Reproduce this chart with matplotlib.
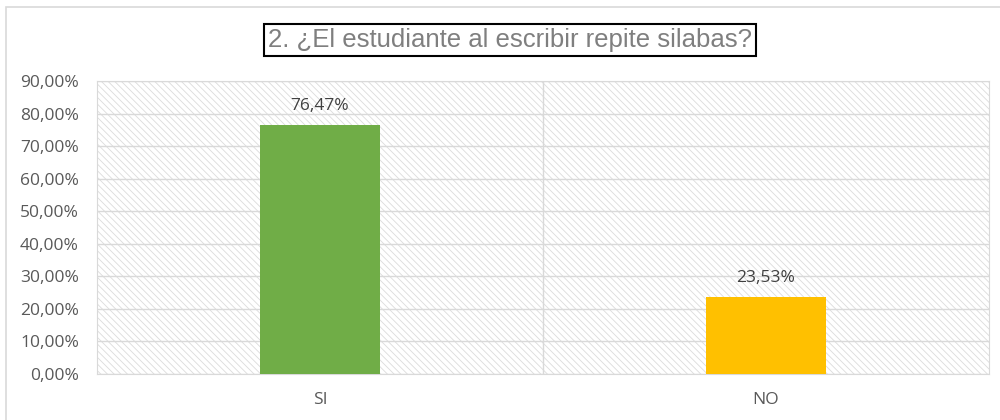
import matplotlib.pyplot as plt
from matplotlib.patches import Rectangle
from matplotlib.ticker import FuncFormatter

categories = ["SI", "NO"]
values = [76.47, 23.53]
colors = ["#70AD47", "#FFC000"]
title = "2. ¿El estudiante al escribir repite silabas?"

plt.rcParams['hatch.linewidth'] = 0.6

fig = plt.figure(figsize=(10, 4.2), dpi=100)
ax = fig.add_axes([0.097, 0.1095, 0.892, 0.6976])

# outer chart border (clipped on right/bottom like the original)
fig.patches.append(Rectangle((0.006, -0.02), 1.1, 1.003, transform=fig.transFigure,
                             fill=False, edgecolor="#d9d9d9", linewidth=1.2))

# hatched plot area background
ax.add_patch(Rectangle((0, 0), 1, 1, transform=ax.transAxes, facecolor="white",
                       edgecolor="#dcdcdc", hatch="\\\\\\\\\\", linewidth=0, zorder=0))

x = list(range(len(categories)))
ax.bar(x, values, width=0.271, color=colors, zorder=3)

for xi, v in zip(x, values):
    ax.annotate(("%.2f%%" % v).replace(".", ","), (xi, v), xytext=(0, 8),
                textcoords="offset points", ha="center", va="bottom",
                fontsize=12.5, color="#404040", family="Open Sans")

ax.set_xlim(-0.5, 1.5)
ax.set_ylim(0, 90)
ax.set_yticks(range(0, 91, 10))
ax.yaxis.set_major_formatter(FuncFormatter(lambda v, p: ("%.2f%%" % v).replace(".", ",")))
ax.set_xticks(x)
ax.set_xticklabels(categories)
ax.tick_params(axis="y", length=0, pad=13, labelsize=12.5, labelcolor="#595959")
ax.tick_params(axis="x", length=0, pad=13, labelsize=12.5, labelcolor="#595959")
for lbl in ax.get_xticklabels() + ax.get_yticklabels():
    lbl.set_family("Open Sans")

ax.grid(axis="y", color="#d9d9d9", linewidth=1, zorder=1)
ax.axvline(0.5, color="#d9d9d9", linewidth=1, zorder=1)
for s in ax.spines.values():
    s.set_color("#d9d9d9")

fig.text(0.51, 0.905, title, ha="center", va="center", fontsize=18.5, color="#7f7f7f",
         family="Liberation Sans",
         bbox=dict(boxstyle="square,pad=0.15", facecolor="white", edgecolor="black", linewidth=1.5))

fig.savefig("out.png", dpi=100)
